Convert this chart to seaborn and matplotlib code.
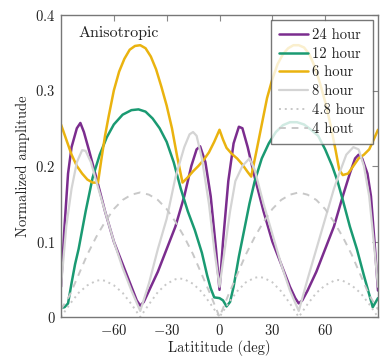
import matplotlib
matplotlib.use("Agg")
import matplotlib.pyplot as plt
import seaborn as sns
import numpy as np
import pandas as pd

# ---------------- data ----------------
lat_24 = [-90, -88, -86, -84, -81, -79, -77, -74, -70, -65, -60, -55, -50, -47, -45, -43, -40, -35, -30, -25,
          -20, -16, -13, -11, -8, -5, -2, 0, 2, 5, 8, 11, 13, 16, 20, 25, 30, 35, 40, 43, 45, 47, 50, 55, 60,
          65, 70, 74, 77, 79, 81, 84, 86, 88, 90]
val_24 = [0.040, 0.120, 0.190, 0.225, 0.250, 0.257, 0.245, 0.220, 0.185, 0.140, 0.100, 0.070, 0.040, 0.022,
          0.015, 0.020, 0.035, 0.060, 0.090, 0.120, 0.160, 0.200, 0.222, 0.226, 0.205, 0.160, 0.090, 0.036,
          0.100, 0.180, 0.230, 0.252, 0.250, 0.225, 0.185, 0.140, 0.100, 0.070, 0.040, 0.025, 0.018, 0.022,
          0.035, 0.060, 0.090, 0.120, 0.160, 0.190, 0.210, 0.215, 0.210, 0.190, 0.160, 0.100, 0.035]

lat_12 = [-90, -88, -86, -84, -82, -80, -76, -72, -68, -64, -60, -55, -50, -46, -42, -38, -34, -30, -26, -22,
          -18, -14, -10, -7, -5, -3, 0, 2, 4, 6, 8, 11, 14, 17, 20, 24, 28, 32, 36, 40, 44, 48, 52, 56, 60,
          64, 67, 70, 74, 78, 82, 85, 87, 90]
val_12 = [0.012, 0.013, 0.018, 0.045, 0.070, 0.090, 0.140, 0.185, 0.215, 0.238, 0.255, 0.268, 0.274, 0.275,
          0.272, 0.263, 0.250, 0.232, 0.205, 0.170, 0.140, 0.115, 0.085, 0.055, 0.038, 0.026, 0.025, 0.022,
          0.014, 0.020, 0.040, 0.080, 0.115, 0.150, 0.180, 0.210, 0.230, 0.245, 0.254, 0.258, 0.258, 0.255,
          0.248, 0.240, 0.222, 0.200, 0.180, 0.155, 0.120, 0.090, 0.055, 0.030, 0.013, 0.025]

lat_6 = [-90, -87, -84, -81, -78, -75, -72, -69, -67, -65, -63, -60, -57, -54, -51, -48, -45, -42, -39, -36,
         -33, -30, -27, -24, -21, -18, -15, -12, -9, -6, -3, 0, 2, 4, 7, 10, 13, 16, 18, 21, 24, 27, 30, 33,
         36, 39, 42, 45, 48, 51, 54, 57, 60, 63, 66, 68, 70, 73, 76, 79, 82, 85, 87, 90]
val_6 = [0.255, 0.235, 0.215, 0.200, 0.190, 0.182, 0.178, 0.178, 0.210, 0.240, 0.265, 0.300, 0.325, 0.342,
         0.354, 0.359, 0.360, 0.356, 0.345, 0.328, 0.305, 0.280, 0.250, 0.212, 0.178, 0.185, 0.193, 0.200,
         0.208, 0.218, 0.232, 0.248, 0.235, 0.224, 0.216, 0.210, 0.202, 0.192, 0.186, 0.220, 0.255, 0.290,
         0.315, 0.335, 0.348, 0.356, 0.360, 0.360, 0.357, 0.348, 0.332, 0.310, 0.285, 0.255, 0.220, 0.195,
         0.188, 0.190, 0.200, 0.210, 0.215, 0.222, 0.232, 0.248]

lat_8 = [-90, -87, -84, -81, -78, -76, -73, -70, -65, -60, -55, -50, -45, -40, -35, -30, -25, -20, -17, -15,
         -13, -10, -6, -3, 0, 3, 6, 9, 13, 17, 20, 25, 30, 35, 40, 45, 50, 55, 60, 65, 68, 72, 76, 79, 82,
         85, 88, 90]
val_8 = [0.040, 0.120, 0.170, 0.205, 0.221, 0.220, 0.205, 0.180, 0.140, 0.100, 0.065, 0.035, 0.008, 0.045,
         0.090, 0.130, 0.185, 0.225, 0.242, 0.245, 0.240, 0.210, 0.150, 0.090, 0.040, 0.090, 0.140, 0.180,
         0.200, 0.210, 0.195, 0.150, 0.110, 0.070, 0.035, 0.008, 0.050, 0.090, 0.130, 0.170, 0.190, 0.215,
         0.225, 0.222, 0.200, 0.160, 0.090, 0.040]

lat_48 = [-90, -85, -80, -75, -70, -67.5, -65, -60, -55, -50, -45, -40, -35, -30, -25, -22.5, -20, -15, -10,
          -5, 0, 5, 10, 15, 20, 22.5, 25, 30, 35, 40, 45, 50, 55, 60, 65, 67.5, 70, 75, 80, 85, 90]
val_48 = [0.000, 0.017, 0.032, 0.042, 0.048, 0.049, 0.048, 0.042, 0.032, 0.017, 0.000, 0.017, 0.033, 0.044,
          0.050, 0.051, 0.050, 0.044, 0.033, 0.017, 0.000, 0.018, 0.034, 0.046, 0.052, 0.053, 0.052, 0.046,
          0.034, 0.018, 0.000, 0.017, 0.032, 0.042, 0.048, 0.049, 0.048, 0.042, 0.032, 0.017, 0.000]

lat_4 = [-90, -85, -80, -75, -70, -65, -60, -55, -50, -45, -40, -35, -30, -25, -20, -15, -10, -5, 0,
         5, 10, 15, 20, 25, 30, 35, 40, 45, 50, 55, 60, 65, 70, 75, 80, 85, 90]
val_4 = [0.010, 0.029, 0.056, 0.083, 0.106, 0.126, 0.143, 0.155, 0.162, 0.165, 0.162, 0.155, 0.143, 0.126,
         0.106, 0.083, 0.056, 0.029, 0.000, 0.029, 0.056, 0.083, 0.106, 0.126, 0.143, 0.155, 0.162, 0.165,
         0.162, 0.155, 0.143, 0.126, 0.106, 0.083, 0.056, 0.029, 0.010]

labels = ["24 hour", "12 hour", "6 hour", "8 hour", "4.8 hour", "4 hout"]
x_ticks = [-60, -30, 0, 30, 60]
y_ticks = [0, 0.1, 0.2, 0.3, 0.4]
x_tick_labels = ["$-60$", "$-30$", "$0$", "$30$", "$60$"]
y_tick_labels = ["$0$", "$0.1$", "$0.2$", "$0.3$", "$0.4$"]

# ---------------- style ----------------
sns.set_style("white")
plt.rcParams["font.family"] = ["cmr10", "DejaVu Serif"]
plt.rcParams["mathtext.fontset"] = "cm"
plt.rcParams["axes.formatter.use_mathtext"] = True

fig = plt.figure(figsize=(3.87, 3.58), dpi=100)
ax = fig.add_axes([61 / 387, 1 - 317 / 358, (378 - 61) / 387, (317 - 15) / 358])

series = [
    (lat_24, val_24, "#7b2d8e", "-", 1.8, None),
    (lat_12, val_12, "#1a9a72", "-", 1.8, None),
    (lat_6, val_6, "#eab30f", "-", 1.8, None),
    (lat_8, val_8, "#d4d4d4", "-", 1.6, None),
    (lat_48, val_48, "#c8c8c8", ":", 1.4, (0, (1, 2))),
    (lat_4, val_4, "#c8c8c8", "--", 1.4, (0, (3.5, 3))),
]
for (lx, ly, col, ls, lw, dash), lab in zip(series, labels):
    df = pd.DataFrame({"lat": lx, "amp": ly})
    sns.lineplot(data=df, x="lat", y="amp", ax=ax, color=col,
                 linestyle=dash if dash is not None else ls,
                 linewidth=lw, label=lab, sort=False, estimator=None)

ax.set_xlim(-90, 90)
ax.set_ylim(0, 0.4)
ax.set_xticks(x_ticks)
ax.set_xticklabels(x_tick_labels)
ax.set_yticks(y_ticks)
ax.set_yticklabels(y_tick_labels)
ax.tick_params(direction="in", top=True, right=True, length=4, width=0.8,
               colors="#888888", labelcolor="#222222", labelsize=10.5, pad=4)
for sp in ax.spines.values():
    sp.set_color("#777777")
    sp.set_linewidth(1.0)

ax.set_xlabel("Latititude (deg)", fontsize=10.5, color="#222222", labelpad=2)
ax.set_ylabel("Normalized amplitude", fontsize=10.5, color="#222222", labelpad=4)

ax.text(0.054, 0.94, "Anisotropic", transform=ax.transAxes, fontsize=11.5,
        ha="left", va="center", color="#222222")

leg = ax.legend(loc="upper right", fontsize=10.5, frameon=True, fancybox=False,
                framealpha=0.8, edgecolor="#555555", borderaxespad=0.35,
                handlelength=2.0, handletextpad=0.3, labelspacing=0.35,
                borderpad=0.55)
leg.get_frame().set_linewidth(1.0)
for t in leg.get_texts():
    t.set_color("#222222")

fig.savefig("out.png", dpi=100)
